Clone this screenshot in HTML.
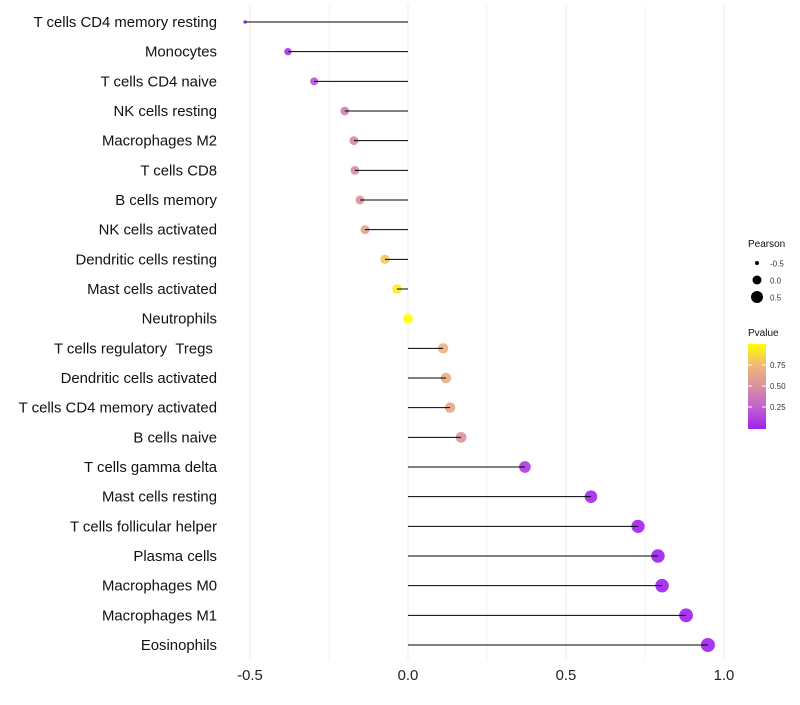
<!DOCTYPE html>
<html><head><meta charset="utf-8"><style>
body{margin:0;background:#fff;}
svg text{font-family:"Liberation Sans",sans-serif;}
</style></head><body>
<svg id="chart" width="800" height="700">
<defs>
<linearGradient id="pg" x1="0" y1="1" x2="0" y2="0">
<stop offset="0" stop-color="#a020f0"/><stop offset="0.25" stop-color="#c060d0"/>
<stop offset="0.5" stop-color="#da90a0"/><stop offset="0.75" stop-color="#f0b878"/>
<stop offset="1" stop-color="#ffff00"/>
</linearGradient>
</defs>
<g id="grid"></g><g id="marks"></g><g id="labels"></g>
<g>
<text x="748" y="247" font-size="10" fill="#111">Pearson</text>
<circle cx="757" cy="263" r="2" fill="#000"/><text x="770" y="266.5" font-size="8" fill="#333">-0.5</text>
<circle cx="757" cy="280" r="4.5" fill="#000"/><text x="770" y="283.5" font-size="8" fill="#333">0.0</text>
<circle cx="757" cy="297" r="6" fill="#000"/><text x="770" y="300.5" font-size="8" fill="#333">0.5</text>
<text x="748" y="336" font-size="10" fill="#111">Pvalue</text>
<rect x="748" y="344" width="18" height="85" fill="url(#pg)"/>
<g stroke="#fff" stroke-width="1"><line x1="748" y1="365" x2="752" y2="365"/><line x1="762" y1="365" x2="766" y2="365"/>
<line x1="748" y1="386" x2="752" y2="386"/><line x1="762" y1="386" x2="766" y2="386"/>
<line x1="748" y1="407" x2="752" y2="407"/><line x1="762" y1="407" x2="766" y2="407"/></g>
<text x="770" y="368" font-size="8" fill="#333">0.75</text>
<text x="770" y="389" font-size="8" fill="#333">0.50</text>
<text x="770" y="410" font-size="8" fill="#333">0.25</text>
</g>
</svg>
<script>
const cells=["T cells CD4 memory resting","Monocytes","T cells CD4 naive","NK cells resting","Macrophages M2","T cells CD8","B cells memory","NK cells activated","Dendritic cells resting","Mast cells activated","Neutrophils","T cells regulatory\u00a0\u00a0Tregs\u00a0","Dendritic cells activated","T cells CD4 memory activated","B cells naive","T cells gamma delta","Mast cells resting","T cells follicular helper","Plasma cells","Macrophages M0","Macrophages M1","Eosinophils"];
const pearson=[-0.516,-0.38,-0.297,-0.2,-0.171,-0.168,-0.152,-0.136,-0.073,-0.035,0,0.111,0.12,0.133,0.168,0.37,0.579,0.728,0.791,0.804,0.88,0.949];
const pvalue=[0.01,0.08,0.2,0.4,0.45,0.47,0.52,0.6,0.8,0.93,1.0,0.72,0.68,0.64,0.5,0.1,0.02,0.002,0.001,0.001,0.001,0.001];
const xticks=[-0.5,0,0.5,1.0];
const xtickLabels=["-0.5","0.0","0.5","1.0"];
const NS="http://www.w3.org/2000/svg";
const x=v=>408+v*316;
const y=i=>22+i*(623/21);
const stops=[[0,[160,32,240]],[0.25,[192,96,208]],[0.5,[218,144,160]],[0.75,[240,184,120]],[1,[255,255,0]]];
function col(p){for(let k=1;k<stops.length;k++){if(p<=stops[k][0]){const a=stops[k-1],b=stops[k],t=(p-a[0])/(b[0]-a[0]);return "rgb("+a[1].map((c,j)=>Math.round(c+(b[1][j]-c)*t)).join(",")+")";}}return "rgb(255,255,0)";}
const rad=v=>Math.sqrt(Math.max(3,24+27*v-Math.max(0,-0.4-v)*180));
function mk(t,a,p){const e=document.createElementNS(NS,t);for(const k in a)e.setAttribute(k,a[k]);p.appendChild(e);return e;}
const grid=document.getElementById('grid'),marks=document.getElementById('marks'),labels=document.getElementById('labels');
[-0.5,-0.25,0,0.25,0.5,0.75,1.0].forEach(v=>{const l=mk('line',{x1:x(v),x2:x(v),y1:5,y2:660,stroke:'#ebebeb','stroke-width':v*4%2==0?1:0.6},grid);

});
cells.forEach((c,i)=>{
 const pt=mk('circle',{cx:x(pearson[i]),cy:y(i),r:rad(pearson[i]),fill:col(pvalue[i]),'fill-opacity':0.9},marks);
 
 
 const sg=mk('line',{x1:x(0),x2:x(pearson[i]),y1:y(i),y2:y(i),stroke:'#000','stroke-width':1},marks);
 
 
 const t=mk('text',{x:217,y:y(i)+5,'text-anchor':'end','font-size':14.9,fill:'#111'},labels);
 t.textContent=c;
 
 
});
xticks.forEach((v,i)=>{const t=mk('text',{x:x(v),y:680,'text-anchor':'middle','font-size':14.9,fill:'#222'},labels);
 t.textContent=xtickLabels[i];
 
 });
</script>
</body></html>
